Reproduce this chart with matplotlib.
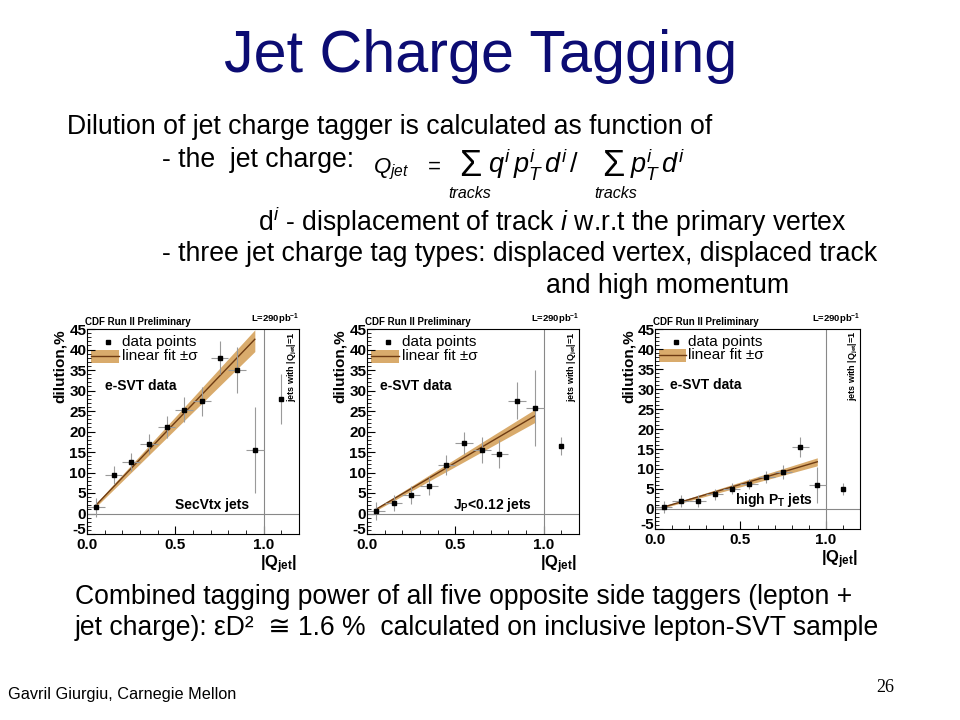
import numpy as np
import matplotlib
matplotlib.use("Agg")
import matplotlib.pyplot as plt
from matplotlib.ticker import MultipleLocator

# ---- data ----
bin_x = [0.05, 0.15, 0.25, 0.35, 0.45, 0.55, 0.65, 0.75, 0.85, 0.95, 1.1]
bin_xerr = [0.05, 0.05, 0.05, 0.05, 0.05, 0.05, 0.05, 0.05, 0.05, 0.05, 0.0]

secvtx_y = [1.5, 9.5, 12.6, 17.0, 21.0, 25.3, 27.4, 38.0, 35.0, 15.5, 28.0]
secvtx_err = [2.3, 2.2, 2.2, 2.5, 2.7, 3.1, 3.5, 4.0, 5.5, 10.5, 6.1]

jp_y = [0.6, 2.5, 4.6, 6.7, 11.8, 17.2, 15.5, 14.5, 27.5, 25.7, 16.5]
jp_err = [2.1, 2.0, 2.2, 2.3, 2.4, 2.8, 3.2, 3.5, 4.5, 9.2, 2.2]

hipt_y = [0.5, 2.0, 2.0, 3.7, 5.1, 6.3, 8.0, 9.2, 15.5, 6.0, 5.0]
hipt_err = [1.5, 1.5, 1.5, 1.4, 1.3, 1.3, 1.5, 1.8, 2.5, 4.5, 1.5]

fit_x = [0.05, 0.95]
secvtx_fit = [2.0, 42.5]
secvtx_lo = [1.6, 39.5]
secvtx_hi = [2.4, 44.8]
jp_fit = [1.0, 23.8]
jp_lo = [0.7, 22.2]
jp_hi = [1.3, 25.4]
hipt_fit = [0.5, 11.8]
hipt_lo = [0.3, 10.8]
hipt_hi = [0.7, 12.8]

panel_labels = ["SecVtx jets", r"J$_\mathbf{P}$<0.12 jets", r"high P$_\mathbf{T}$ jets"]

W, H = 960, 720
plt.rcParams['mathtext.fontset'] = 'custom'
plt.rcParams['mathtext.rm'] = 'Liberation Sans'
plt.rcParams['mathtext.it'] = 'Liberation Sans:italic'
plt.rcParams['mathtext.bf'] = 'Liberation Sans:bold'
plt.rcParams['axes.unicode_minus'] = False

body = ['Liberation Sans', 'DejaVu Sans']
helv = ['Liberation Sans', 'DejaVu Sans']

fig = plt.figure(figsize=(9.6, 7.2), dpi=100)
fig.patch.set_facecolor('white')


def px(x, y):
    return x / W, 1 - y / H


def ftext(x, y, s, **kw):
    fx, fy = px(x, y)
    fig.text(fx, fy, s, **kw)


# slide text
ftext(481, 57, "Jet Charge Tagging", ha='center', va='center', fontsize=42.7,
      color='#0c0c73', family=helv)
ftext(67, 127, "Dilution of jet charge tagger is calculated as function of",
      va='center', fontsize=19.2, family=body)
ftext(162, 160, "- the  jet charge:", va='center', fontsize=19.2, family=body)

# jet charge formula, built from pieces
ftext(373, 173, r"$Q_{jet}$", va='baseline', fontsize=16, family=helv)
ftext(428, 173, "=", va='baseline', fontsize=16, family=helv)
ftext(470, 176, "\u03a3", ha='center', va='baseline', fontsize=26, family=helv)
ftext(470, 198, "tracks", ha='center', va='baseline', fontsize=11.5, style='italic', family=helv)
ftext(488, 173, r"$q^i\,p^i_T\,d^i\,/$", va='baseline', fontsize=19.5, family=helv)
ftext(613, 176, "\u03a3", ha='center', va='baseline', fontsize=26, family=helv)
ftext(616, 198, "tracks", ha='center', va='baseline', fontsize=11.5, style='italic', family=helv)
ftext(630, 173, r"$p^i_T\,d^i$", va='baseline', fontsize=19.5, family=helv)

ftext(258, 222, r"d$^i$ - displacement of track $i$ w.r.t the primary vertex",
      va='center', fontsize=19.2, family=body)
ftext(162, 254, "- three jet charge tag types: displaced vertex, displaced track",
      va='center', fontsize=19.2, family=body)
ftext(546, 286, "and high momentum", va='center', fontsize=19.2, family=body)
ftext(75, 597, "Combined tagging power of all five opposite side taggers (lepton +",
      va='center', fontsize=19.1, family=body)
ftext(75, 628, "jet charge): \u03b5D\u00b2  \u2245 1.6 %  calculated on inclusive lepton-SVT sample",
      va='center', fontsize=19.1, family=body)
ftext(8, 695, "Gavril Giurgiu, Carnegie Mellon", va='center', fontsize=11.7, family=body)
ftext(885, 688, "26", va='center', ha='center', fontsize=13,
      family=['Liberation Serif', 'DejaVu Serif'])

# panel geometry in pixels: left, top, right, bottom
boxes = [(87, 329, 299, 534), (367, 329, 579, 534), (655, 329, 860, 529)]
ys = [secvtx_y, jp_y, hipt_y]
errs = [secvtx_err, jp_err, hipt_err]
fits = [(secvtx_fit, secvtx_lo, secvtx_hi), (jp_fit, jp_lo, jp_hi), (hipt_fit, hipt_lo, hipt_hi)]
label_right = [0.764, 0.777, 0.771]
esvt_x = [0.085, 0.06, 0.073]

band_col = '#d9ab6c'
line_col = '#6e3b12'

for i, (l, t, r, b) in enumerate(boxes):
    ax = fig.add_axes([l / W, 1 - b / H, (r - l) / W, (b - t) / H])
    ax.set_xlim(0, 1.2)
    ax.set_ylim(-5, 45)
    ax.axhline(0, color='#888888', lw=0.8)
    ax.axvline(1.0, color='#888888', lw=0.8)

    fy, flo, fhi = fits[i]
    ax.fill_between(fit_x, flo, fhi, color=band_col, lw=0)
    ax.plot(fit_x, fy, color=line_col, lw=1.0)

    ax.errorbar(bin_x, ys[i], yerr=errs[i], xerr=bin_xerr, fmt='s', ms=2.8,
                color='black', ecolor='#9a9a9a', elinewidth=0.8, capsize=0)

    ax.xaxis.set_minor_locator(MultipleLocator(0.1))
    ax.yaxis.set_minor_locator(MultipleLocator(1))
    ax.tick_params(which='both', direction='in', top=False, right=False)
    ax.tick_params(which='major', length=6, width=0.8, labelsize=11)
    ax.tick_params(axis='y', which='major', pad=0.5)
    ax.tick_params(axis='x', which='major', pad=3)
    ax.tick_params(which='minor', length=3, width=0.6)
    ax.set_xticks([0.0, 0.5, 1.0])
    ax.set_xticklabels(["0.0", "0.5", "1.0"])
    ax.set_yticks([-5, 0, 5, 10, 15, 20, 25, 30, 35, 40, 45])
    ax.set_yticklabels(["-5", "0", "5", "10", "15", "20", "25", "30", "35", "40", "45"])
    for lab in ax.get_xticklabels() + ax.get_yticklabels():
        lab.set_fontweight('bold')
        lab.set_family(helv)
    ax.get_yticklabels()[0].set_va('baseline')
    for s in ax.spines.values():
        s.set_linewidth(0.8)

    ax.set_ylabel("dilution,%", fontsize=11, fontweight='bold', family=helv, loc='top')
    ax.yaxis.set_label_coords(-0.095, 1.0)
    ax.text(0.99, -0.095, r"|Q$_\mathbf{jet}$|", transform=ax.transAxes, ha='right',
            va='top', fontsize=12, fontweight='bold', family=helv)
    ax.text(-0.01, 1.008, "CDF Run II Preliminary", transform=ax.transAxes, ha='left',
            va='bottom', fontsize=7, fontweight='bold', family=helv)
    ax.text(1.0, 1.008, r"L=290pb$^\mathbf{-1}$", transform=ax.transAxes, ha='right',
            va='bottom', fontsize=6.8, fontweight='bold', family=helv)
    ax.text(0.97, 0.99, r"jets with |Q$_\mathbf{jet}$|=1", transform=ax.transAxes,
            rotation=90, ha='center', va='top', fontsize=6.5, fontweight='bold', family=helv)

    # legend drawn ROOT-like
    ax.plot([0.1], [0.937], 's', ms=2.8, color='black', transform=ax.transAxes)
    ax.text(0.163, 0.937, "data points", transform=ax.transAxes, va='center',
            fontsize=11, family=helv)
    ax.add_patch(plt.Rectangle((0.02, 0.836), 0.13, 0.063, transform=ax.transAxes,
                               color=band_col, lw=0))
    ax.plot([0.02, 0.15], [0.868, 0.868], color=line_col, lw=1.0, transform=ax.transAxes)
    ax.text(0.163, 0.868, "linear fit \u00b1\u03c3", transform=ax.transAxes, va='center',
            fontsize=11, family=helv)
    ax.text(esvt_x[i], 0.722, "e-SVT data", transform=ax.transAxes, va='center',
            fontsize=10, fontweight='bold', family=helv)
    ax.text(label_right[i], 0.143, panel_labels[i], transform=ax.transAxes, ha='right',
            va='center', fontsize=10, fontweight='bold', family=helv)

fig.savefig("out.png", dpi=100)
